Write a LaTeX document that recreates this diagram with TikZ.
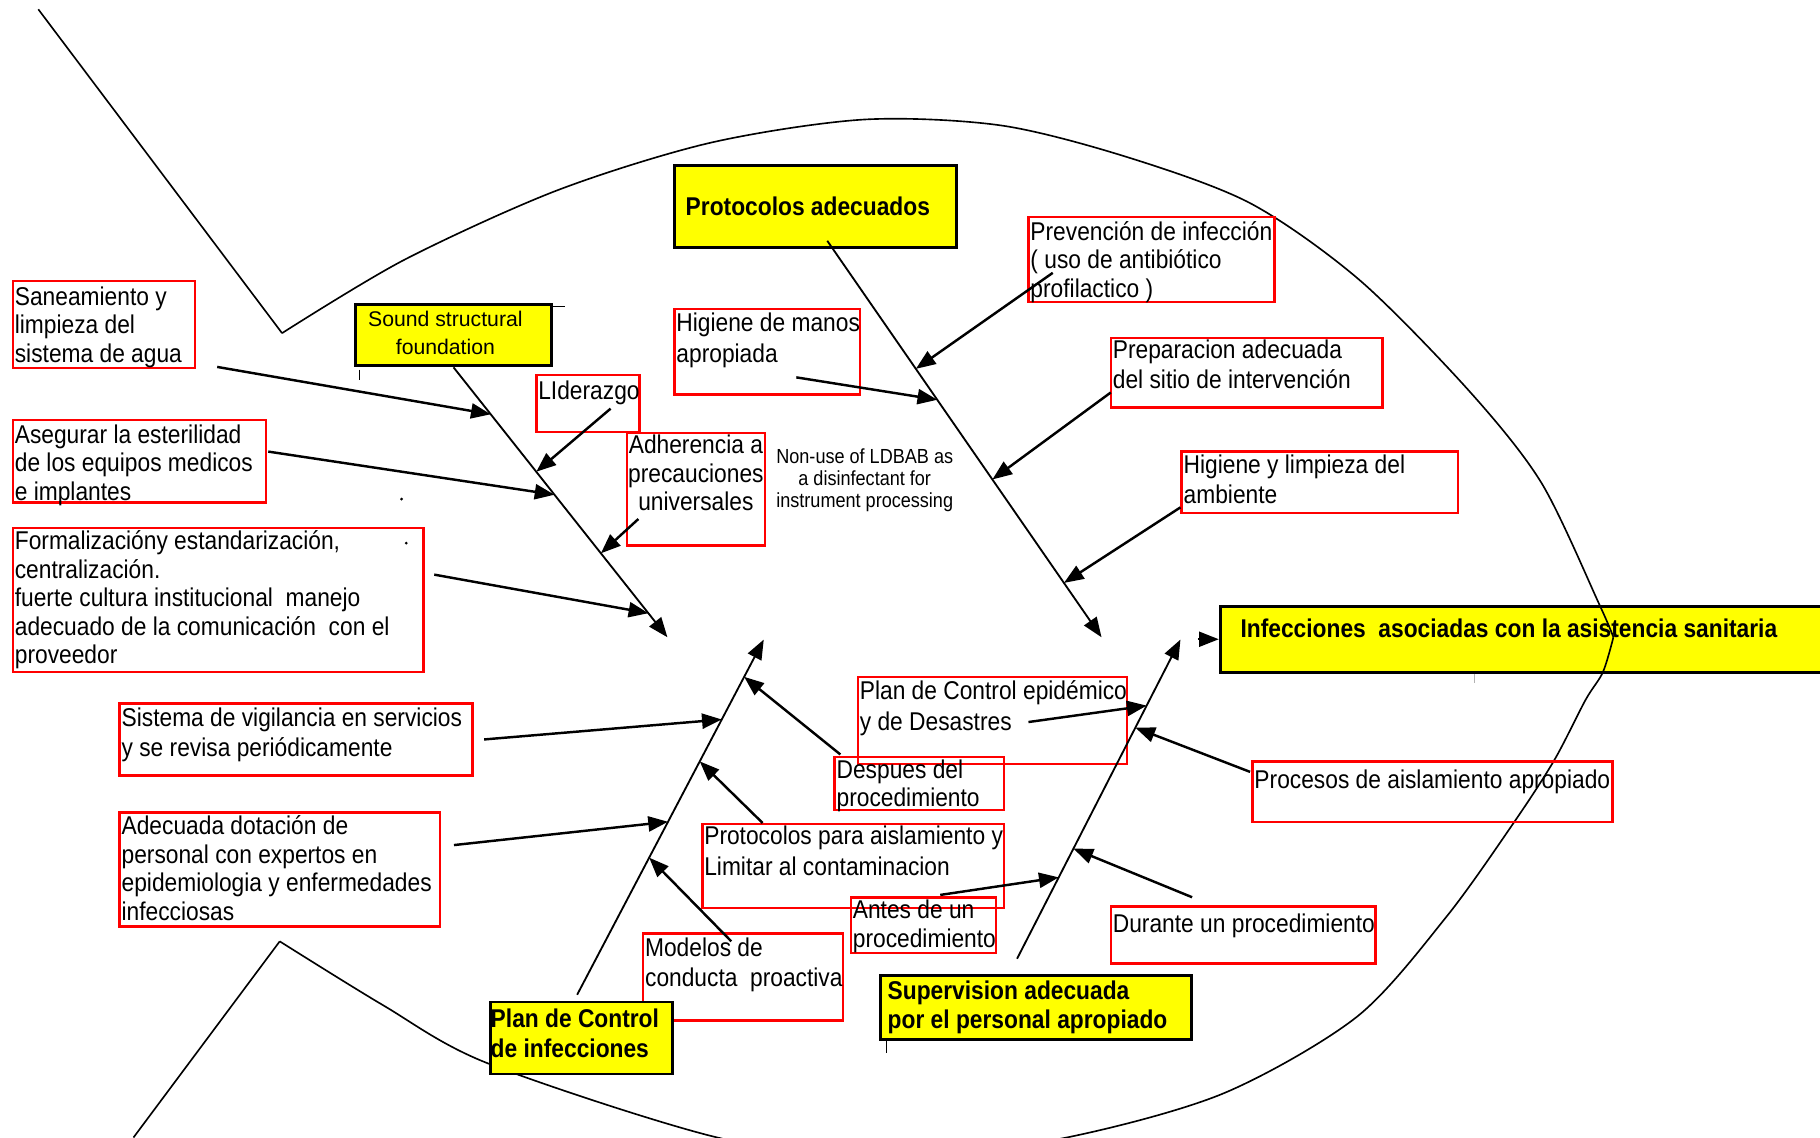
\documentclass[tikz,border=0pt]{standalone}
\usepackage{fontspec}
\setmainfont{Liberation Sans}
\newfontfamily\boxfont[FakeStretch=0.886]{Liberation Sans}
\newfontfamily\plainfont{Liberation Sans}
\usetikzlibrary{arrows.meta}
\definecolor{boxyellow}{RGB}{255,255,0}

\begin{document}
\begin{tikzpicture}[x=0.1mm,y=-0.1mm,line width=0.45pt,
		redbox/.style={draw=red,line width=0.6pt,anchor=north west,inner sep=0pt},
		yelbox/.style={draw=black,fill=boxyellow,line width=0.7pt,anchor=north west,inner sep=0pt},
		txt/.style={anchor=base west,inner sep=0pt,align=left,font=\boxfont\fontsize{6.3}{7}\selectfont},
		txtw/.style={txt,font=\boxfont\fontsize{6.3}{7.5}\selectfont},
		bold/.style={inner sep=0pt,align=left,font=\boxfont\bfseries\fontsize{6.3}{7.2}\selectfont},
		spine/.style={-{Triangle[length=1.7mm,width=1.3mm]}},
		branch/.style={line width=0.6pt,-{Triangle[length=1.7mm,width=1.3mm]}}]
		%%Frame
		\useasboundingbox (0,0) rectangle (1568,980);
		\clip (0,0) rectangle (1568,980);
		%%Head box (under the outline)
		\node[yelbox,minimum width=55mm,minimum height=5.7mm] (iaa) at (1050,521) {};
		%%Outline of the fish
		\draw[line width=0.4pt] (33,8) -- (243,287);
		\draw[line width=0.4pt] plot[smooth] coordinates {(243,287) (348,224) (480,164) (612,123) (744,103) (862,108) (970,135) (1077,175) (1171,241) (1265,336) (1328,416) (1378,521) (1390,549)};
		\draw[line width=0.4pt] plot[smooth] coordinates {(1390,549) (1381,579) (1366,603) (1339,655) (1304,709) (1246,790) (1169,876) (1054,942) (919,980) (770,1000) (618,980) (420,916) (330,866) (241,811)};
		\draw[line width=0.4pt] (241,811) -- (115,980);
		
		%%Red boxes
		\node[redbox,minimum width=15.7mm,minimum height=7.5mm] (san) at (10,241) {};
		\node[redbox,minimum width=21.8mm,minimum height=7.1mm] (ase) at (10,361) {};
		\node[redbox,minimum width=35.4mm,minimum height=12.4mm] (frm) at (10,454) {};
		\node[redbox,minimum width=30.4mm,minimum height=6.2mm] (sis) at (102,605) {};
		\node[redbox,minimum width=27.6mm,minimum height=9.8mm] (ade) at (102,699) {};
		\node[redbox,minimum width=8.9mm,minimum height=4.9mm] (lid) at (461,322) {};
		\node[redbox,minimum width=16mm,minimum height=7.4mm] (hma) at (580,265) {};
		\node[redbox,minimum width=11.9mm,minimum height=9.7mm] (adh) at (539,372) {};
		\node[redbox,minimum width=21.2mm,minimum height=7.3mm] (pre) at (885,186) {};
		\node[redbox,minimum width=23.4mm,minimum height=6mm] (prep) at (956,290) {};
		\node[redbox,minimum width=23.8mm,minimum height=5.3mm] (hli) at (1017,388) {};
		\node[redbox,minimum width=23.2mm,minimum height=7.5mm] (pce) at (738,582) {};
		\node[redbox,minimum width=14.6mm,minimum height=4.6mm] (des) at (718,651) {};
		\node[redbox,minimum width=26mm,minimum height=7.2mm] (pai) at (604,709) {};
		\node[redbox,minimum width=12.5mm,minimum height=4.8mm] (ant) at (732,772) {};
		\node[redbox,minimum width=17.2mm,minimum height=7.5mm] (mod) at (553,803) {};
		\node[redbox,minimum width=31mm,minimum height=5.2mm] (pro) at (1078,655) {};
		\node[redbox,minimum width=22.8mm,minimum height=4.9mm] (dur) at (956,780) {};
		
		%%Yellow boxes
		\node[yelbox,minimum width=24.3mm,minimum height=7.1mm] (pad) at (580,141) {};
		\node[yelbox,minimum width=16.9mm,minimum height=5.3mm] (ssf) at (305,261) {};
		\node[yelbox,minimum width=15.7mm,minimum height=6.2mm] (pci) at (421,862) {};
		\node[yelbox,minimum width=26.8mm,minimum height=5.5mm] (sup) at (757,839) {};
		%%small ticks
		\draw[line width=0.3pt] (ssf.north east) ++(0,3) -- ++(10,0);
		\draw[line width=0.3pt] (ssf.south west) ++(5,2) -- ++(0,9);
		\draw[line width=0.3pt] (sup.south west) ++(7,0) -- ++(0,11);
		\draw[line width=0.3pt,gray!60] (iaa.south west) ++(220,0) -- ++(0,8);
		\fill (346,430) circle[radius=0.13mm];
		\fill (350,468) circle[radius=0.13mm];
		
		%%Spines
		\coordinate (h1) at (575,549);
		\coordinate (h2) at (949,549);
		\coordinate (h3) at (658,551);
		\coordinate (h4) at (1017,551);
		\draw[spine] (ssf.south) -- (h1)
			coordinate[pos=0.174] (psan) coordinate[pos=0.387] (plid) coordinate[pos=0.472] (pase)
			coordinate[pos=0.689] (padh) coordinate[pos=0.911] (pfrm);
		\draw[spine] ([shift={(10,-7)}]pad.south) -- (h2)
			coordinate[pos=0.323] (ppre) coordinate[pos=0.401] (phma) coordinate[pos=0.602] (pprep)
			coordinate[pos=0.782] (pnon) coordinate[pos=0.863] (phli);
		\draw[spine] ([shift={(-3.5,-5)}]pci.north) -- (h3)
			coordinate[pos=0.386] (pmod) coordinate[pos=0.487] (pade) coordinate[pos=0.657] (ppai)
			coordinate[pos=0.775] (psis) coordinate[pos=0.895] (pdes);
		\draw[spine] ([shift={(-16,-13)}]sup.north) -- (h4)
			coordinate[pos=0.255] (pant) coordinate[pos=0.345] (pdur) coordinate[pos=0.724] (ppro)
			coordinate[pos=0.793] (ppce);
		\draw[spine] ([shift={(-18,0)}]iaa.west) -- (iaa.west);
		
		%%Branches
		\draw[branch] ([shift={(18,-2)}]san.south east) -- (psan);
		\draw[branch] ([shift={(1,-8.5)}]ase.east) -- (pase);
		\draw[branch] ([shift={(8,-22)}]frm.east) -- (pfrm);
		\draw[branch] ([shift={(19.5,4.5)}]lid.center) -- (plid);
		\draw[branch] ([shift={(11,-24)}]adh.south west) -- (padh);
		\draw[branch] ([shift={(22,11.5)}]pre.west) -- (ppre);
		\draw[branch] ([shift={(25,-16)}]hma.south) -- (phma);
		\draw[branch] ([shift={(1,-14)}]prep.south west) -- (pprep);
		\draw[branch] ([shift={(0,-6)}]hli.south west) -- (phli);
		\draw[branch] ([shift={(9,0)}]sis.east) -- (psis);
		\draw[branch] ([shift={(11,-21)}]ade.east) -- (pade);
		\draw[branch] ([shift={(6,-1)}]des.north west) -- (pdes);
		\draw[branch] ([shift={(53,0)}]pai.north west) -- (ppai);
		\draw[branch] ([shift={(-10,8)}]mod.north) -- (pmod);
		\draw[branch] ([shift={(31,1.5)}]pce.center) -- (ppce);
		\draw[branch] ([shift={(-1,10)}]pro.north west) -- (ppro);
		\draw[branch] ([shift={(14.5,-1)}]ant.north) -- (pant);
		\draw[branch] ([shift={(-44,-7)}]dur.north) -- (pdur);
		
		%%Label (base = baseline of the last line)
		\node[txt] (sanT) at ([shift={(2,71)}]san.north west) {Saneamiento y\\limpieza del\\sistema de agua};
		\node[txt] (aseT) at ([shift={(2,70)}]ase.north west) {Asegurar la esterilidad\\de los equipos medicos\\e implantes};
		\node[txt] (frmT) at ([shift={(2,118)}]frm.north west) {Formalizacióny estandarización,\\centralización.\\fuerte cultura institucional\ \ manejo\\adecuado de la comunicación\ \ con el\\proveedor};
		\node[txtw] (sisT) at ([shift={(2,47)}]sis.north west) {Sistema de vigilancia en servicios\\y se revisa periódicamente};
		\node[txt] (adeT) at ([shift={(2,94)}]ade.north west) {Adecuada dotación de\\personal con expertos en\\epidemiologia y enfermedades\\infecciosas};
		\node[txt] (lidT) at ([shift={(2,22)}]lid.north west) {LIderazgo};
		\node[txtw] (hmaT) at ([shift={(2,47)}]hma.north west) {Higiene de manos\\apropiada};
		\node[txt,align=center,anchor=base] (adhT) at ([shift={(0,68)}]adh.north) {Adherencia a\\precauciones\\universales};
		\node[inner sep=0pt,align=center,font=\boxfont\fontsize{5}{5.4}\selectfont] (non) at (745,414) {Non-use of LDBAB as\\a disinfectant for\\instrument processing};
		\node[txt] (preT) at ([shift={(2,70)}]pre.north west) {Prevención de infección\\( uso de antibiótico\\profilactico )};
		\node[txtw] (prepT) at ([shift={(2,45)}]prep.north west) {Preparacion adecuada\\del sitio de intervención};
		\node[txtw] (hliT) at ([shift={(2,46)}]hli.north west) {Higiene y limpieza del\\ambiente};
		\node[txtw] (pceT) at ([shift={(2,47)}]pce.north west) {Plan de Control epidémico\\y de Desastres};
		\node[txt] (desT) at ([shift={(2,44)}]des.north west) {Despues del\\procedimiento};
		\node[txtw] (paiT) at ([shift={(2,45)}]pai.north west) {Protocolos para aislamiento y\\Limitar al contaminacion};
		\node[txt] (antT) at ([shift={(2,44)}]ant.north west) {Antes de un\\procedimiento};
		\node[txtw] (modT) at ([shift={(2,47)}]mod.north west) {Modelos de\\conducta\ \ proactiva};
		\node[txt] (proT) at ([shift={(2,24)}]pro.north west) {Procesos de aislamiento apropiado};
		\node[txt] (durT) at ([shift={(2,23)}]dur.north west) {Durante un procedimiento};
		
		\node[bold,anchor=west] (padT) at ([shift={(10,0)}]pad.west) {Protocolos adecuados};
		\node[inner sep=0pt,align=center,font=\plainfont\fontsize{5.2}{6.8}\selectfont] (ssfT) at ([shift={(-7,-2)}]ssf.center) {Sound structural\\foundation};
		\node[bold,anchor=west] (iaaT) at ([shift={(18,-9)}]iaa.west) {Infecciones\ \ asociadas con la asistencia sanitaria};
		\node[bold,anchor=west,font=\boxfont\bfseries\fontsize{6.3}{7.4}\selectfont] (pciT) at ([shift={(1,-4)}]pci.west) {Plan de Control\\de infecciones};
		\node[bold,anchor=west] (supT) at ([shift={(7,0)}]sup.west) {Supervision adecuada\\por el personal apropiado};
\end{tikzpicture}
\end{document}
